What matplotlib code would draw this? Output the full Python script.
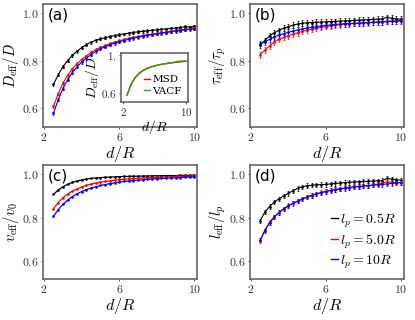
import numpy as np
import matplotlib.pyplot as plt
from matplotlib.lines import Line2D

plt.rcParams['mathtext.fontset'] = 'cm'
plt.rcParams['font.family'] = 'DejaVu Sans'

# separacao d/R
d = [2.5, 2.75, 3.0, 3.25, 3.5, 3.75, 4.0, 4.25, 4.5, 4.75, 5.0, 5.25, 5.5, 5.75, 6.0, 6.25,
     6.5, 6.75, 7.0, 7.25, 7.5, 7.75, 8.0, 8.25, 8.5, 8.75, 9.0, 9.25, 9.5, 9.75, 10.0]

# (a) D_eff/D
Da_k = [0.700, 0.740, 0.775, 0.800, 0.822, 0.840, 0.855, 0.868, 0.878, 0.886, 0.892, 0.897, 0.902,
        0.906, 0.910, 0.913, 0.916, 0.919, 0.922, 0.924, 0.926, 0.928, 0.930, 0.932, 0.934, 0.936,
        0.938, 0.940, 0.944, 0.942, 0.945]
Da_r = [0.607, 0.660, 0.705, 0.738, 0.765, 0.787, 0.805, 0.820, 0.835, 0.846, 0.856, 0.864, 0.872,
        0.878, 0.884, 0.889, 0.894, 0.898, 0.902, 0.906, 0.909, 0.912, 0.915, 0.918, 0.921, 0.924,
        0.927, 0.930, 0.932, 0.935, 0.940]
Da_b = [0.578, 0.635, 0.682, 0.720, 0.750, 0.774, 0.794, 0.811, 0.826, 0.839, 0.850, 0.859, 0.867,
        0.874, 0.880, 0.885, 0.890, 0.895, 0.899, 0.903, 0.907, 0.910, 0.913, 0.916, 0.919, 0.922,
        0.925, 0.927, 0.930, 0.932, 0.935]

# (b) tau_eff/tau_p
tau_k = [0.865, 0.885, 0.905, 0.918, 0.928, 0.937, 0.944, 0.950, 0.955, 0.958, 0.960, 0.961, 0.962,
         0.963, 0.964, 0.965, 0.966, 0.967, 0.968, 0.969, 0.970, 0.971, 0.972, 0.973, 0.974, 0.975,
         0.977, 0.983, 0.979, 0.976, 0.975]
tau_r = [0.825, 0.845, 0.862, 0.878, 0.890, 0.898, 0.905, 0.912, 0.918, 0.924, 0.929, 0.933, 0.937,
         0.941, 0.944, 0.947, 0.950, 0.952, 0.954, 0.956, 0.957, 0.958, 0.959, 0.960, 0.962, 0.963,
         0.964, 0.966, 0.967, 0.968, 0.970]
tau_b = [0.872, 0.880, 0.890, 0.900, 0.908, 0.914, 0.920, 0.925, 0.930, 0.934, 0.938, 0.941, 0.944,
         0.947, 0.949, 0.951, 0.953, 0.955, 0.956, 0.957, 0.958, 0.959, 0.960, 0.961, 0.962, 0.963,
         0.964, 0.965, 0.966, 0.967, 0.968]

# (c) v_eff/v0
v_k = [0.905, 0.925, 0.940, 0.951, 0.960, 0.966, 0.971, 0.975, 0.978, 0.980, 0.982, 0.983, 0.984,
       0.985, 0.986, 0.987, 0.987, 0.988, 0.988, 0.989, 0.989, 0.990, 0.990, 0.990, 0.991, 0.991,
       0.991, 0.992, 0.992, 0.992, 0.993]
v_r = [0.840, 0.868, 0.890, 0.906, 0.920, 0.930, 0.939, 0.946, 0.952, 0.957, 0.961, 0.964, 0.967,
       0.970, 0.972, 0.974, 0.976, 0.977, 0.979, 0.980, 0.981, 0.982, 0.983, 0.984, 0.985, 0.986,
       0.987, 0.987, 0.988, 0.988, 0.989]
v_b = [0.805, 0.836, 0.860, 0.879, 0.895, 0.908, 0.918, 0.927, 0.934, 0.940, 0.946, 0.950, 0.954,
       0.958, 0.961, 0.964, 0.966, 0.968, 0.970, 0.972, 0.974, 0.975, 0.977, 0.978, 0.979, 0.980,
       0.981, 0.982, 0.983, 0.984, 0.985]

# (d) l_eff/l_p
l_k = [0.785, 0.825, 0.850, 0.870, 0.885, 0.898, 0.910, 0.922, 0.933, 0.940, 0.945, 0.947, 0.949,
       0.950, 0.951, 0.953, 0.955, 0.957, 0.959, 0.960, 0.962, 0.963, 0.964, 0.965, 0.966, 0.967,
       0.968, 0.978, 0.975, 0.972, 0.970]
l_r = [0.695, 0.742, 0.778, 0.803, 0.823, 0.840, 0.854, 0.865, 0.875, 0.885, 0.894, 0.901, 0.908,
       0.914, 0.919, 0.924, 0.928, 0.931, 0.934, 0.937, 0.940, 0.942, 0.944, 0.946, 0.948, 0.952,
       0.958, 0.962, 0.960, 0.958, 0.960]
l_b = [0.697, 0.740, 0.776, 0.802, 0.822, 0.839, 0.853, 0.864, 0.874, 0.884, 0.893, 0.900, 0.907,
       0.913, 0.918, 0.923, 0.927, 0.930, 0.933, 0.936, 0.939, 0.941, 0.943, 0.945, 0.947, 0.949,
       0.951, 0.953, 0.955, 0.957, 0.959]

# inset de (a): MSD x VACF
d_in = [2.5, 3.0, 3.5, 4.0, 4.5, 5.0, 5.5, 6.0, 6.5, 7.0, 7.5, 8.0, 8.5, 9.0, 9.5, 10.0]
msd = [0.585, 0.690, 0.760, 0.805, 0.836, 0.858, 0.874, 0.886, 0.896, 0.904, 0.911, 0.917, 0.922,
       0.927, 0.931, 0.935]
vacf = [0.580, 0.695, 0.765, 0.810, 0.840, 0.861, 0.876, 0.888, 0.898, 0.906, 0.913, 0.919, 0.925,
        0.935, 0.937, 0.936]

err_a = 0.006
err_b = 0.012
err_d = 0.010

rotulos = [r'$l_p=0.5R$', r'$l_p=5.0R$', r'$l_p=10R$']
cores = ['black', 'red', 'blue']

fig = plt.figure(figsize=(4.15, 3.2), dpi=100)
pos = {'a': [0.104, 0.603, 0.371, 0.385],
       'b': [0.602, 0.603, 0.371, 0.385],
       'c': [0.104, 0.128, 0.371, 0.357],
       'd': [0.602, 0.128, 0.371, 0.357]}

dados = {'a': (Da_k, Da_r, Da_b, err_a, r'$D_{\rm eff}/D$'),
         'b': (tau_k, tau_r, tau_b, err_b, r'$\tau_{\rm eff}/\tau_p$'),
         'c': (v_k, v_r, v_b, None, r'$v_{\rm eff}/v_0$'),
         'd': (l_k, l_r, l_b, err_d, r'$l_{\rm eff}/l_p$')}


def estilo(ax, yt, ytl, xt, xtl, fs=8.5):
    for s in ax.spines.values():
        s.set_color('#666666')
        s.set_linewidth(1.2)
    ax.set_xticks(xt)
    ax.set_xticklabels(xtl, fontsize=fs)
    ax.set_yticks(yt)
    ax.set_yticklabels(ytl, fontsize=fs)
    ax.tick_params(direction='out', length=1.5, width=0.6, pad=1.5, colors='#333333')


for k in ['a', 'b', 'c', 'd']:
    ax = fig.add_axes(pos[k])
    yk, yr, yb, err, ylab = dados[k]
    for y, cor, lab in zip([yk, yr, yb], cores, rotulos):
        if err is None:
            ax.plot(d, y, '-', color=cor, lw=0.9, marker='o', ms=0.9, label=lab)
        else:
            ax.errorbar(d, y, yerr=err, fmt='-o', color=cor, lw=0.8, ms=0.9,
                        elinewidth=0.5, capsize=1.0, capthick=0.5, label=lab)
    ax.set_xlim(1.95, 10.15)
    ax.set_ylim(0.52, 1.04)
    estilo(ax, [0.6, 0.8, 1.0], [r'$0.6$', r'$0.8$', r'$1.0$'],
           [2, 6, 10], [r'$2$', r'$6$', r'$10$'])
    ax.set_xlabel(r'$d/R$', fontsize=11.5, labelpad=0)
    ax.set_ylabel(ylab, fontsize=10.5, labelpad=1)
    ax.text(0.03, 0.97, '(' + k + ')', transform=ax.transAxes, fontsize=11,
            ha='left', va='top')
    if k == 'd':
        alcas = [Line2D([], [], color=c, lw=1.0) for c in cores]
        ax.legend(alcas, rotulos, loc='lower right', frameon=False, fontsize=10,
                  handlelength=0.5, handletextpad=0.1, labelspacing=0.2,
                  borderaxespad=0.2)

# inset
axi = fig.add_axes([0.292, 0.681, 0.161, 0.153])
axi.plot(d_in, msd, color='red', lw=1.0, label='MSD')
axi.plot(d_in, vacf, color='#22aa22', lw=1.0, label='VACF')
axi.set_xlim(1.75, 10.25)
axi.set_ylim(0.51, 1.02)
estilo(axi, [0.6, 1.0], [r'$0.6$', r'$1.$'], [2, 10], [r'$2$', r'$10$'], fs=8)
axi.set_xlabel(r'$d/R$', fontsize=10, labelpad=0)
axi.set_ylabel(r'$D_{\rm eff}/D$', fontsize=10, labelpad=0)
axi.legend(loc='lower right', frameon=False, prop={'family': 'DejaVu Serif', 'size': 7.5},
           handlelength=0.6, handletextpad=0.2, labelspacing=0.2, borderaxespad=0.2)

fig.savefig('out.png', dpi=100)
